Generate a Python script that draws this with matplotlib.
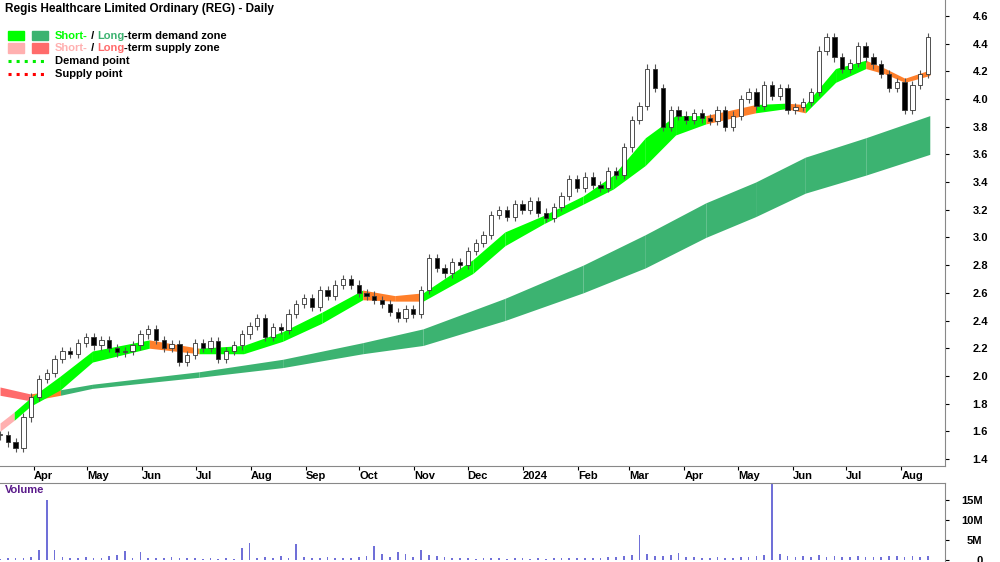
import numpy as np, pandas as pd, matplotlib
matplotlib.use("Agg")
import matplotlib.pyplot as plt

plt.rcParams['font.family'] = ['Liberation Sans', 'DejaVu Sans']

closes = [1.57,1.52,1.48,1.70,1.85,1.98,2.02,2.12,2.18,2.16,2.24,2.28,2.22,2.26,2.20,2.17,2.18,2.22,2.30,2.34,
          2.26,2.20,2.23,2.10,2.15,2.24,2.20,2.25,2.12,2.18,2.22,2.30,2.36,2.42,2.28,2.35,2.33,2.45,2.52,2.56,
          2.50,2.62,2.58,2.66,2.70,2.66,2.60,2.58,2.55,2.52,2.46,2.42,2.48,2.45,2.62,2.85,2.78,2.74,2.82,2.80,
          2.90,2.96,3.02,3.16,3.20,3.15,3.24,3.20,3.26,3.18,3.14,3.22,3.30,3.42,3.36,3.44,3.38,3.36,3.48,3.45,
          3.65,3.85,3.95,4.22,4.08,3.80,3.92,3.88,3.85,3.90,3.86,3.84,3.92,3.80,3.88,4.00,4.05,3.95,4.10,4.02,
          4.08,3.92,3.94,3.98,4.05,4.35,4.45,4.30,4.22,4.26,4.38,4.30,4.25,4.18,4.08,4.12,3.92,4.10,4.18,4.45]
volume_m = [0.3,0.4,0.5,0.6,0.8,2.5,15.0,2.6,0.8,0.6,0.5,0.7,0.4,0.5,0.9,1.2,2.2,0.6,2.0,0.5,
            0.6,0.4,0.7,0.5,0.4,0.6,0.3,0.5,0.3,0.4,0.2,3.0,4.2,0.6,0.8,0.5,0.9,0.4,4.0,0.8,
            0.6,0.5,0.7,0.4,0.6,0.5,0.8,0.9,3.5,1.6,0.7,2.0,1.5,0.8,2.5,1.2,1.0,0.7,0.6,0.4,
            0.5,0.3,0.6,0.4,0.5,0.3,0.4,0.5,0.3,0.4,0.3,0.4,0.5,0.4,0.6,0.5,0.4,0.6,0.7,0.8,
            1.0,1.2,6.2,1.5,1.0,0.9,1.2,1.8,0.8,0.7,0.6,0.6,0.7,0.5,0.6,0.8,0.7,0.9,1.2,19.0,
            1.5,1.0,0.8,0.9,0.7,1.2,0.8,0.9,0.7,0.8,0.9,0.8,0.7,0.8,0.9,1.0,0.8,0.9,0.7,0.9]
dates = pd.date_range('2023-03-13', '2024-08-16', periods=len(closes))

short_dates = ['2023-03-13','2023-03-21','2023-03-30','2023-04-16','2023-05-04','2023-06-05','2023-07-03',
               '2023-07-28','2023-08-19','2023-09-10','2023-10-03','2023-10-21','2023-11-06','2023-12-04',
               '2023-12-22','2024-01-13','2024-02-04','2024-02-21','2024-03-10','2024-03-27','2024-04-13',
               '2024-05-11','2024-05-28','2024-06-08','2024-06-25','2024-07-12','2024-07-23','2024-08-03','2024-08-17']
short_up = [1.66,1.74,1.84,2.00,2.18,2.26,2.20,2.22,2.32,2.46,2.62,2.58,2.60,2.84,3.04,3.16,3.30,3.45,3.72,3.88,
            3.88,3.96,3.97,3.96,4.22,4.28,4.22,4.15,4.21]
short_lo = [1.60,1.68,1.78,1.90,2.10,2.20,2.16,2.16,2.25,2.38,2.55,2.54,2.54,2.74,2.94,3.10,3.24,3.35,3.52,3.74,
            3.82,3.90,3.93,3.90,4.12,4.22,4.18,4.12,4.17]
short_state = ['ss','sd','sd','sd','sd','sx','sd','sd','sd','sd','sx','sx','sd','sd','sd','sd','sd','sd','sd','sd',
               'sx','sd','sx','sd','sd','sx','sx','sx']
long_dates = ['2023-03-13','2023-03-30','2023-04-16','2023-05-04','2023-07-03','2023-08-19','2023-10-03',
              '2023-11-06','2023-12-22','2024-02-04','2024-03-10','2024-04-13','2024-05-11','2024-06-08',
              '2024-07-12','2024-08-17']
long_up = [1.92,1.87,1.90,1.94,2.03,2.12,2.24,2.34,2.56,2.80,3.02,3.25,3.40,3.58,3.72,3.88]
long_lo = [1.86,1.82,1.86,1.91,1.99,2.06,2.16,2.22,2.40,2.60,2.78,3.00,3.15,3.32,3.45,3.60]
long_state = ['ls','lx','ld','ld','ld','ld','ld','ld','ld','ld','ld','ld','ld','ld','ld']
colors = {'sd':'#00ff00','sx':'#ff7f2a','ss':'#ffb0b0','ld':'#3cb371','lx':'#ff7f2a','ls':'#ff6b6b'}

fig = plt.figure(figsize=(10,5.62), dpi=100)
ax = fig.add_axes([0,0.171,0.945,0.829])
axv = fig.add_axes([0,0,0.945,0.1406], sharex=ax)

def zone(dl, up, lo, st):
    d = pd.to_datetime(dl)
    for i in range(len(st)):
        ax.fill_between(d[i:i+2], lo[i:i+2], up[i:i+2], color=colors[st[i]], lw=0, zorder=1)
zone(long_dates, long_up, long_lo, long_state)
zone(short_dates, short_up, short_lo, short_state)

w = (dates[1]-dates[0])*0.55
for i, c in enumerate(closes):
    o = closes[i-1] if i > 0 else c
    hi, lo = max(o, c)+0.03, min(o, c)-0.03
    ax.vlines(dates[i], lo, hi, color='#555555', lw=0.8, zorder=2)
    fc = 'white' if c >= o else 'black'
    ax.bar(dates[i], max(abs(c-o), 0.008), bottom=min(o, c), width=w, color=fc, edgecolor='#333333', lw=0.6, zorder=3)

axv.bar(dates, volume_m, width=w*0.4, color='#7070d8')

xmax = dates[-1] + (dates[-1]-dates[0])*17/928
ax.set_xlim(dates[0], xmax)
ax.set_ylim(1.35, 4.715)
ax.yaxis.tick_right()
ax.set_yticks(np.arange(1.4, 4.61, 0.2))
ax.set_yticklabels([f'{v:.1f}' for v in np.arange(1.4, 4.61, 0.2)], fontsize=8, fontweight='bold')
ax.tick_params(axis='y', length=3, pad=28, labelright=True)
for t in ax.get_yticklabels(): t.set_ha('right')
months = pd.to_datetime(['2023-04-01','2023-05-01','2023-06-01','2023-07-01','2023-08-01','2023-09-01','2023-10-01',
                         '2023-11-01','2023-12-01','2024-01-01','2024-02-01','2024-03-01','2024-04-01','2024-05-01',
                         '2024-06-01','2024-07-01','2024-08-01'])
mlabels = ['Apr','May','Jun','Jul','Aug','Sep','Oct','Nov','Dec','2024','Feb','Mar','Apr','May','Jun','Jul','Aug']
ax.set_xticks(months)
ax.set_xticklabels(mlabels, fontsize=8, fontweight='bold', ha='left')
ax.tick_params(axis='x', length=3, pad=1)
for s in ['top','left']: ax.spines[s].set_visible(False)
ax.spines['right'].set_color('#888888'); ax.spines['bottom'].set_color('#888888')

axv.set_ylim(-0.5, 19.3)
axv.yaxis.tick_right()
axv.set_yticks([0,5,10,15]); axv.set_yticklabels(['0','5M','10M','15M'], fontsize=8, fontweight='bold')
axv.tick_params(axis='y', length=3, pad=24)
for t in axv.get_yticklabels(): t.set_ha('right')
axv.tick_params(axis='x', bottom=False, labelbottom=False)
for s in ['bottom','left']: axv.spines[s].set_visible(False)
axv.spines['right'].set_color('#888888'); axv.spines['top'].set_color('#888888')
axv.text(0.005, 0.97, 'Volume', transform=axv.transAxes, fontsize=8, fontweight='bold', color='#5a1a8a', va='top')

fig.text(0.005, 0.995, 'Regis Healthcare Limited Ordinary (REG) - Daily', fontsize=8.5, fontweight='bold', va='top')
ly = [0.936, 0.914]
for y, c1, c2, t1, t2, rest in [(ly[0], '#00ff00', '#3cb371', 'Short-', 'Long', '-term demand zone'),
                                (ly[1], '#ffb0b0', '#ff6b6b', 'Short-', 'Long', '-term supply zone')]:
    fig.patches.append(plt.Rectangle((0.008, y-0.008), 0.016, 0.017, color=c1, transform=fig.transFigure))
    fig.patches.append(plt.Rectangle((0.032, y-0.008), 0.016, 0.017, color=c2, transform=fig.transFigure))
    prev = fig.text(0.055, y, t1, fontsize=8, fontweight='bold', color=c1, va='center')
    for s, col in [(' / ', 'black'), (t2, c2), (rest, 'black')]:
        prev = fig.text(0, 0, s, fontsize=8, fontweight='bold', color=col, va='center', ha='left',
                        transform=matplotlib.transforms.offset_copy(prev.get_transform(), fig=fig, x=0, y=0))
        prev.set_position((0, 0))
    # positions fixed below
fig.canvas.draw()
# rebuild legend line texts sequentially using renderer widths
for t in list(fig.texts):
    if t.get_position() == (0, 0):
        t.remove()
r = fig.canvas.get_renderer()
for y, c1, c2, t1, t2, rest in [(ly[0], '#00ff00', '#3cb371', 'Short-', 'Long', '-term demand zone'),
                                (ly[1], '#ffb0b0', '#ff6b6b', 'Short-', 'Long', '-term supply zone')]:
    x = 0.055
    for s, col in [(t1, c1), (' / ', 'black'), (t2, c2), (rest, 'black')]:
        if s == t1:
            # already drawn
            tt = [t for t in fig.texts if t.get_text() == t1 and abs(t.get_position()[1]-y) < 1e-6][0]
        else:
            tt = fig.text(x, y, s, fontsize=8, fontweight='bold', color=col, va='center')
        x += tt.get_window_extent(r).width / fig.bbox.width
fig.lines.append(plt.Line2D([0.008,0.046],[0.891,0.891], color='#00ee00', ls=':', lw=2.2, transform=fig.transFigure))
fig.lines.append(plt.Line2D([0.008,0.046],[0.869,0.869], color='#ff0000', ls=':', lw=2.2, transform=fig.transFigure))
fig.text(0.055, 0.891, 'Demand point', fontsize=8, fontweight='bold', va='center')
fig.text(0.055, 0.869, 'Supply point', fontsize=8, fontweight='bold', va='center')

fig.savefig('out.png', dpi=100, facecolor='white')
